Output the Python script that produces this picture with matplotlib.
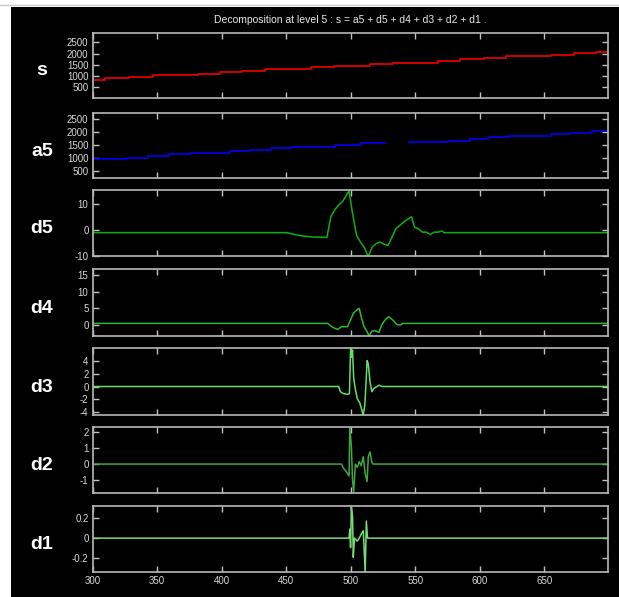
import matplotlib.pyplot as plt
from matplotlib.patches import Rectangle
import numpy as np

plt.rcParams['font.family'] = ['Liberation Sans Narrow', 'Liberation Sans', 'DejaVu Sans']

# staircase look of the two smooth signals (segment start, level)
s_x = [300, 309.8, 327.8, 346.7, 381.3, 398.7, 415.8, 433.8, 469, 486.7,
       514.8, 532.5, 567.6, 584.4, 602.8, 620.5, 654.7, 673, 689.8]
s_y = [825, 895, 965, 1035, 1105, 1175, 1245, 1315, 1385, 1455,
       1525, 1595, 1665, 1735, 1805, 1875, 1945, 2015, 2080]

a5_x = [300, 326.3, 343.1, 359, 375.2, 406.6, 421.9, 437.8, 454, 487.6,
        508, 526.4, 544.7, 575.3, 592.1, 606.7, 622.6, 654.7, 670, 686.8]
a5_y = [961, 1013, 1077, 1141, 1205, 1256, 1320, 1372, 1436, 1500,
        1564, np.nan, 1603, 1667, 1731, 1795, 1859, 1910, 1974, 2038]

d5_x = [300, 450, 454.6, 459.2, 465.3, 471.4, 481.5, 484.5, 487.6, 490.6, 493.7,
        496.7, 498.6, 501.3, 504.4, 507.4, 510.5, 513.5, 516.6, 519.7, 522.7,
        525.8, 528.8, 531.9, 534.9, 538, 541, 544.7, 547.1, 549.3, 552.3, 555.4,
        558.5, 561.5, 564.6, 567.6, 570.7, 572.2, 699]
d5_y = [-0.9, -0.9, -1.4, -1.9, -2.3, -2.6, -2.7, 5.3, 7.9, 9.8, 11.1,
        13.7, 15.2, 6.5, -1.9, -4.5, -6.7, -10.0, -6.4, -5.1, -4.5,
        -5.4, -5.8, -2.6, 0.6, 1.9, 3.2, 4.5, 5.2, 1.2, 0.6, -0.7,
        -0.7, -1.6, -0.7, -0.7, -0.3, -0.9, -0.9]

d4_x = [300, 482.1, 484.5, 487.6, 489.7, 492.8, 497.4, 499.5, 501.9, 505, 506.5,
        508, 510.2, 512.6, 514.2, 516.3, 518.7, 521.8, 523.9, 526.4, 529.4,
        532.5, 535.5, 538.6, 540.1, 699]
d4_y = [0.4, 0.4, -0.4, -1.1, -1.4, -0.6, -0.6, 1.2, 3.4, 4.6, 4.9,
        2.4, -0.6, -2.1, -3.4, -1.9, -1.8, -2.3, -0.1, 1.4, 2.4,
        1.4, 0.1, -0.1, 0.4, 0.4]

d3_x = [300, 490.6, 491.9, 494.3, 497.4, 498.9, 499.8, 500.7, 501.3, 502.2, 503.4,
        505, 507.1, 509.6, 510.8, 511.7, 512.6, 513.5, 514.8, 516.3, 517.8,
        520.3, 521.8, 524.2, 699]
d3_y = [0, 0, -0.8, -1.1, -1.2, -1.1, 5.9, 4.5, 5.6, 1.3, -0.3,
        -1.9, -2.6, -4.4, -2.9, 0.3, 4.0, 3.5, 0.8, -0.8, -0.3,
        0, 0.2, 0, 0]

d2_x = [300, 492.8, 494.3, 496.7, 498.6, 499.2, 500.4, 501.3, 502.2, 503.5, 505,
        506.5, 508, 509.6, 511.1, 512.6, 513.5, 514.8, 516.3, 517.2, 699]
d2_y = [0, 0, -0.27, -0.5, -0.75, 2.35, 1.1, -1.0, -1.75, 0, -0.2,
        0.15, -0.1, 0.46, -0.6, -1.1, 0.45, 0.77, 0.1, 0, 0]

d1_x = [300, 498.6, 499.2, 499.8, 500.4, 501.3, 501.9, 502.8, 505, 506.5, 508.7,
        509.6, 510.2, 511.1, 512, 512.9, 699]
d1_y = [0, 0, 0.09, -0.094, 0.31, 0.22, -0.19, 0, -0.03, 0, 0.056,
        0.073, -0.077, -0.34, 0.17, 0, 0]

names = ["s", "a5", "d5", "d4", "d3", "d2", "d1"]
ylims = [(25, 2925), (230, 2740), (-10, 15.4), (-3.4, 16.7), (-4.4, 5.9), (-1.8, 2.35), (-0.34, 0.32)]
yticks = [[500, 1000, 1500, 2000, 2500], [500, 1000, 1500, 2000, 2500], [-10, 0, 10],
          [0, 5, 10, 15], [-4, -2, 0, 2, 4], [-1, 0, 1, 2], [-0.2, 0, 0.2]]
ytlabels = [["500", "1000", "1500", "2000", "2500"], ["500", "1000", "1500", "2000", "2500"],
            ["-10", "0", "10"], ["0", "5", "10", "15"], ["-4", "-2", "0", "2", "4"],
            ["-1", "0", "1", "2"], ["-0.2", "0", "0.2"]]
xticks = [300, 350, 400, 450, 500, 550, 600, 650]
colors = ["#e00000", "#0000e0", "#10b010", "#30b830", "#66dd66", "#40a840", "#77dd77"]

W, H = 619, 597
fig = plt.figure(figsize=(W / 100, H / 100), dpi=100, facecolor="white")
fig.patches.append(Rectangle((11 / W, 0), 1, 1 - 7 / H, transform=fig.transFigure,
                             facecolor="black", edgecolor="none", zorder=-10))
fig.lines.append(plt.Line2D([0, 1], [1 - 5 / H, 1 - 5 / H], transform=fig.transFigure,
                            color="#c8c8e0", lw=1, zorder=-10))

# (top, bottom) of each axes box in pixels
boxes = [(32.7, 98), (112.7, 178.3), (190.3, 256.3), (269.3, 336),
         (348.3, 415), (426.7, 492.7), (506, 572.3)]
x_left, x_right = 92.7, 607.7

series = [(s_x, s_y), (a5_x, a5_y), (d5_x, d5_y), (d4_x, d4_y),
          (d3_x, d3_y), (d2_x, d2_y), (d1_x, d1_y)]

for i, (top, bot) in enumerate(boxes):
    ax = fig.add_axes([x_left / W, 1 - bot / H, (x_right - x_left) / W, (bot - top) / H])
    ax.set_facecolor("black")
    xs, ys = series[i]
    if i < 2:
        ax.step(xs + [699], ys + [ys[-1]], where="post", color=colors[i], lw=1.3)
    else:
        ax.plot(xs, ys, color=colors[i], lw=1.1)
    ax.set_xlim(300, 699)
    ax.set_ylim(*ylims[i])
    ax.set_xticks(xticks)
    ax.set_yticks(yticks[i])
    ax.set_yticklabels(ytlabels[i])
    ax.tick_params(direction="in", length=4.5, width=1, colors="#c0c0c0",
                   labelcolor="#d8d8d8", labelsize=7, pad=3,
                   top=True, right=True)
    if i < 6:
        ax.set_xticklabels([])
    for sp in ax.spines.values():
        sp.set_color("#b8b8b8")
        sp.set_linewidth(1.2)
    cy = (top + bot) / 2 + 10
    fig.text(42 / W, 1 - cy / H, names[i], color="white", fontsize=14,
             fontweight="bold", ha="center", va="baseline")

fig.text(350 / W, 1 - 20 / H, "Decomposition at level 5 : s = a5 + d5 + d4 + d3 + d2 + d1 .",
         color="#e8e8e8", fontsize=7.5, ha="center", va="center")

fig.savefig("out.png", dpi=100, facecolor=fig.get_facecolor())
